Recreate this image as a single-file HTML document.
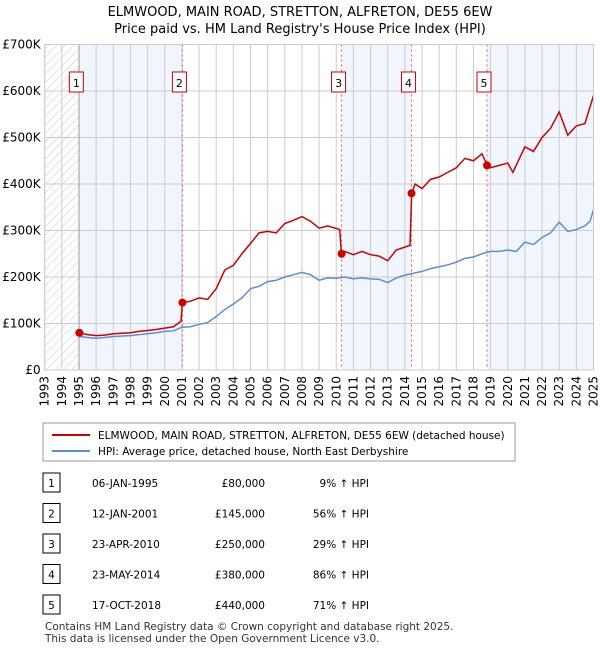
<!DOCTYPE html>
<html><head><meta charset="utf-8"><style>
body{margin:0;background:#fff;font-family:"Liberation Sans","DejaVu Sans",sans-serif;}
svg text{font-family:"DejaVu Sans","Liberation Sans",sans-serif;}
</style></head><body>
<svg id="c" width="600" height="650" viewBox="0 0 600 650" xmlns="http://www.w3.org/2000/svg">
<defs><pattern id="hatch" width="6" height="6" patternUnits="userSpaceOnUse" patternTransform="rotate(45)"><line x1="0" y1="0" x2="0" y2="6" stroke="#ccc" stroke-width="1"/></pattern></defs>
<text x="300" y="16" text-anchor="middle" font-size="13" fill="#000">ELMWOOD, MAIN ROAD, STRETTON, ALFRETON, DE55 6EW</text>
<text x="300" y="33" text-anchor="middle" font-size="13" fill="#000">Price paid vs. HM Land Registry's House Price Index (HPI)</text>
<g id="plot"></g>
<g id="legend">
<rect x="43" y="423" width="472" height="38" fill="#fff" stroke="#999"/>
<line x1="52" y1="435" x2="90" y2="435" stroke="#cc0000" stroke-width="2"/>
<text x="98" y="439" font-size="10.5">ELMWOOD, MAIN ROAD, STRETTON, ALFRETON, DE55 6EW (detached house)</text>
<line x1="52" y1="451" x2="90" y2="451" stroke="#5b8fd4" stroke-width="2"/>
<text x="98" y="455" font-size="10.5">HPI: Average price, detached house, North East Derbyshire</text>
</g>
<g id="table"></g>
<text x="45" y="630" font-size="10.5" fill="#333">Contains HM Land Registry data © Crown copyright and database right 2025.</text>
<text x="45" y="642" font-size="10.5" fill="#333">This data is licensed under the Open Government Licence v3.0.</text>
</svg>
<script>
const hpiYears=[1995,1995.5,1996,1996.5,1997,1997.5,1998,1998.5,1999,1999.5,2000,2000.5,2001,2001.5,2002,2002.5,2003,2003.5,2004,2004.5,2005,2005.5,2006,2006.5,2007,2007.5,2008,2008.5,2009,2009.5,2010,2010.5,2011,2011.5,2012,2012.5,2013,2013.5,2014,2014.5,2015,2015.5,2016,2016.5,2017,2017.5,2018,2018.5,2019,2019.5,2020,2020.5,2021,2021.5,2022,2022.5,2023,2023.5,2024,2024.5,2024.8,2025];
const hpiValues=[72,70,68,70,72,73,74,76,78,80,83,84,92,93,98,102,115,130,142,155,175,180,190,193,200,205,210,205,193,198,197,200,196,198,196,195,188,198,204,208,212,218,222,226,232,240,243,250,255,255,258,255,275,270,285,295,318,298,302,310,320,345];
const priceYears=[1995,1995.5,1996,1996.5,1997,1997.5,1998,1998.5,1999,1999.5,2000,2000.5,2000.95,2001.03,2001.5,2002,2002.5,2003,2003.5,2004,2004.5,2005,2005.5,2006,2006.5,2007,2007.5,2008,2008.5,2009,2009.5,2010.2,2010.3,2010.5,2011,2011.5,2012,2012.5,2013,2013.5,2014.3,2014.4,2014.6,2015,2015.5,2016,2016.5,2017,2017.5,2018,2018.5,2018.8,2019,2019.5,2020,2020.3,2021,2021.5,2022,2022.5,2023,2023.5,2024,2024.5,2025];
const priceValues=[80,76,74,75,78,79,80,83,85,87,90,93,105,145,148,155,152,175,215,225,250,272,295,298,295,315,322,330,320,305,310,302,250,255,248,255,248,245,235,258,268,380,400,390,410,415,425,435,455,450,465,440,435,440,445,425,480,470,500,520,555,505,525,530,590];
const saleLabels=["1","2","3","4","5"];
const saleYears=[1995.02,2001.03,2010.31,2014.39,2018.79];
const salePrices=[80,145,250,380,440];
const saleDates=["06-JAN-1995","12-JAN-2001","23-APR-2010","23-MAY-2014","17-OCT-2018"];
const salePriceText=["£80,000","£145,000","£250,000","£380,000","£440,000"];
const saleHpiText=["9% ↑ HPI","56% ↑ HPI","29% ↑ HPI","86% ↑ HPI","71% ↑ HPI"];
const yTicks=[0,100,200,300,400,500,600,700];
const yTickLabels=["£0","£100K","£200K","£300K","£400K","£500K","£600K","£700K"];
const xTicks=[];for(let y=1993;y<=2025;y++)xTicks.push(y);

const X0=44.7,X1=593.5,Y0=370,Y1=44.5;
const xs=v=>X0+(v-1993)/(2025-1993)*(X1-X0);
const ys=v=>Y0-v/700*(Y0-Y1);
const NS="http://www.w3.org/2000/svg";
const plot=document.getElementById('plot');
function mk(tag,attrs,parent){const e=document.createElementNS(NS,tag);for(const k in attrs)e.setAttribute(k,attrs[k]);(parent||plot).appendChild(e);return e;}
const bands=[[1995,saleYears[1]],[saleYears[2],saleYears[3]],[saleYears[4],2025]];
bands.forEach(b=>{const r=mk('rect',{x:xs(b[0]),y:Y1,width:xs(b[1])-xs(b[0]),height:Y0-Y1,fill:'#eef3fc',opacity:0.8});

});
const h=mk('rect',{x:X0,y:Y1,width:xs(1995)-X0,height:Y0-Y1,fill:'url(#hatch)'});


xTicks.forEach(t=>{const l=mk('line',{x1:xs(t),x2:xs(t),y1:Y1,y2:Y0,stroke:'#ccc','stroke-width':1});


const tx=mk('text',{x:0,y:0,'font-size':12,'text-anchor':'end',transform:`translate(${xs(t)+4},${Y0+6}) rotate(-90)`});tx.textContent=t;

});
yTicks.forEach((t,i)=>{const l=mk('line',{x1:X0,x2:X1,y1:ys(t),y2:ys(t),stroke:'#ccc','stroke-width':1});


const tx=mk('text',{x:X0-4,y:ys(t)+4,'font-size':12,'text-anchor':'end'});tx.textContent=yTickLabels[i];

});
mk('line',{x1:xs(1995),x2:xs(1995),y1:Y1,y2:Y0,stroke:'#999'});
saleYears.forEach((s,i)=>{if(i>0){const l=mk('line',{x1:xs(s),x2:xs(s),y1:Y1,y2:Y0,stroke:'#e06060','stroke-dasharray':'2,3'});

}
const g=mk('g',{});


mk('rect',{x:xs(s)-10,y:72,width:14,height:20,fill:'#fff',stroke:'#cc0000'},g);
const t=mk('text',{x:xs(s)-3,y:87,'font-size':11,'text-anchor':'middle'},g);t.textContent=saleLabels[i];});
const hp=mk('polyline',{points:hpiYears.map((y,i)=>xs(y)+','+ys(hpiValues[i])).join(' '),fill:'none',stroke:'#5b8fd4','stroke-width':1.5});


const pp=mk('polyline',{points:priceYears.map((y,i)=>xs(y)+','+ys(priceValues[i])).join(' '),fill:'none',stroke:'#cc0000','stroke-width':1.5});


saleYears.forEach((s,i)=>{const c=mk('circle',{cx:xs(s),cy:ys(salePrices[i]),r:4,fill:'#cc0000'});

});
mk('rect',{x:X0,y:Y1,width:X1-X0,height:Y0-Y1,fill:'none',stroke:'#ccc'});
const tb=document.getElementById('table');
saleLabels.forEach((lab,i)=>{const y=482+i*30.5;
const g=mk('g',{},tb);


mk('rect',{x:43,y:y-9,width:17,height:19,fill:'#fff',stroke:'#000'},g);
let t=mk('text',{x:51.5,y:y+5,'font-size':10.5,'text-anchor':'middle'},g);t.textContent=lab;
t=mk('text',{x:92,y:y+5,'font-size':10.5},g);t.textContent=saleDates[i];
t=mk('text',{x:265,y:y+5,'font-size':10.5,'text-anchor':'end'},g);t.textContent=salePriceText[i];
t=mk('text',{x:369,y:y+5,'font-size':10.5,'text-anchor':'end'},g);t.textContent=saleHpiText[i];});
</script>
</body></html>
